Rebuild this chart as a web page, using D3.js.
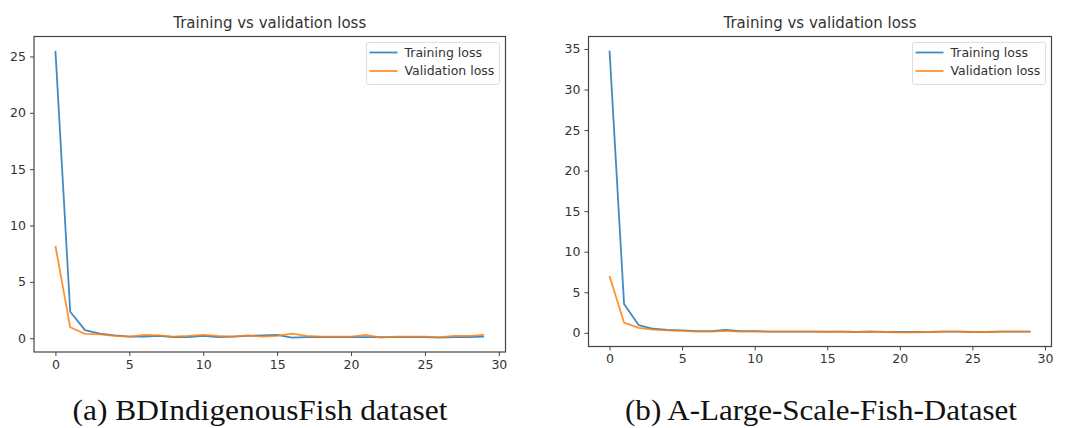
<!DOCTYPE html>
<html>
<head>
<meta charset="utf-8">
<script src="https://cdnjs.cloudflare.com/ajax/libs/d3/7.8.5/d3.min.js"></script>
<style>
  body { margin: 0; background: #fff; }
  svg text { font-family: "DejaVu Sans", sans-serif; fill: #333; }
  .caption { font-family: "Liberation Serif", "DejaVu Serif", serif; fill: #111; }
</style>
</head>
<body>
<svg id="chart" width="1069" height="428"></svg>
<script>
const epochs = d3.range(30);

// (a) BDIndigenousFish
const trainA = [25.5, 2.35, 0.72, 0.4, 0.25, 0.15, 0.15, 0.2, 0.1, 0.1,
                0.2, 0.1, 0.15, 0.2, 0.25, 0.3, 0.05, 0.1, 0.1, 0.1,
                0.1, 0.1, 0.1, 0.1, 0.1, 0.1, 0.05, 0.1, 0.1, 0.15];
const valA = [8.2, 0.97, 0.38, 0.35, 0.2, 0.15, 0.3, 0.25, 0.15, 0.2,
              0.3, 0.2, 0.15, 0.25, 0.15, 0.2, 0.4, 0.2, 0.15, 0.15,
              0.15, 0.3, 0.05, 0.15, 0.15, 0.15, 0.1, 0.2, 0.2, 0.3];

// (b) A-Large-Scale-Fish-Dataset
const trainB = [34.8, 3.55, 0.95, 0.5, 0.35, 0.3, 0.2, 0.2, 0.35, 0.2,
                0.2, 0.15, 0.15, 0.15, 0.15, 0.15, 0.15, 0.1, 0.15, 0.1,
                0.1, 0.1, 0.1, 0.15, 0.15, 0.1, 0.1, 0.15, 0.15, 0.15];
const valB = [7.0, 1.25, 0.6, 0.4, 0.3, 0.25, 0.15, 0.15, 0.25, 0.15,
              0.15, 0.15, 0.15, 0.15, 0.15, 0.1, 0.15, 0.1, 0.15, 0.1,
              0.05, 0.05, 0.1, 0.15, 0.15, 0.1, 0.1, 0.15, 0.15, 0.15];

const xTicks = [0, 5, 10, 15, 20, 25, 30];
const yTicksA = [0, 5, 10, 15, 20, 25];
const yTicksB = [0, 5, 10, 15, 20, 25, 30, 35];
const seriesNames = ["Training loss", "Validation loss"];
const colors = ["#1f77b4", "#ff7f0e"];

const svg = d3.select("#chart");

function drawPanel(box, train, val, yTicks, caption) {
  const g = svg.append("g");

  // matplotlib style 5% margins
  const xExt = d3.extent(epochs);
  const xPad = (xExt[1] - xExt[0]) * 0.05;
  const all = train.concat(val);
  const yExt = d3.extent(all);
  const yPad = (yExt[1] - yExt[0]) * 0.05;

  const x = d3.scaleLinear().domain([xExt[0] - xPad, xExt[1] + xPad]).range([box.x0, box.x1]);
  const y = d3.scaleLinear().domain([yExt[0] - yPad, yExt[1] + yPad]).range([box.y1, box.y0]);

  const line = d3.line().x((d, i) => x(epochs[i])).y(d => y(d));

  [train, val].forEach((s, k) => {
    g.append("path")
      .attr("d", line(s))
      .attr("fill", "none")
      .attr("stroke", colors[k])
      .attr("stroke-width", 1.8)
      .attr("stroke-linejoin", "round")
      .attr("opacity", 0.85);
  });

  // axes
  const xAxis = g.append("g")
    .attr("transform", `translate(0,${box.y1})`)
    .call(d3.axisBottom(x).tickValues(xTicks).tickSize(4).tickPadding(4));
  const yAxis = g.append("g")
    .attr("transform", `translate(${box.x0},0)`)
    .call(d3.axisLeft(y).tickValues(yTicks).tickSize(4).tickPadding(4));
  [xAxis, yAxis].forEach(a => {
    a.select(".domain").remove();
    a.selectAll("line").attr("stroke", "#444");
    a.selectAll("text").style("font-size", "12.5px").style("fill", "#333");
  });

  // frame
  g.append("rect")
    .attr("x", box.x0).attr("y", box.y0)
    .attr("width", box.x1 - box.x0).attr("height", box.y1 - box.y0)
    .attr("fill", "none").attr("stroke", "#444").attr("stroke-width", 1.2);

  // title
  g.append("text")
    .attr("x", (box.x0 + box.x1) / 2).attr("y", box.y0 - 8.5)
    .attr("text-anchor", "middle")
    .style("font-size", "15px")
    .text("Training vs validation loss");

  // legend
  const lg = g.append("g").attr("transform", `translate(${box.x1 - 139},${box.y0 + 6})`);
  lg.append("rect")
    .attr("x", 0).attr("y", 0).attr("width", 133).attr("height", 42)
    .attr("rx", 2)
    .attr("fill", "#fff").attr("stroke", "#ddd");
  seriesNames.forEach((name, i) => {
    lg.append("line")
      .attr("x1", 3).attr("x2", 31)
      .attr("y1", 10 + i * 18.5).attr("y2", 10 + i * 18.5)
      .attr("stroke", colors[i]).attr("stroke-width", 1.8).attr("opacity", 0.85);
    lg.append("text")
      .attr("x", 38).attr("y", 10 + i * 18.5).attr("dy", "0.35em")
      .style("font-size", "12.5px")
      .text(name);
  });

  // caption
  svg.append("text")
    .attr("class", "caption")
    .attr("x", caption.x).attr("y", 420)
    .attr("text-anchor", "middle")
    .attr("textLength", caption.w)
    .attr("lengthAdjust", "spacingAndGlyphs")
    .style("font-size", "29px")
    .text(caption.text);
}

drawPanel({ x0: 34, x1: 505.5, y0: 36.5, y1: 352 }, trainA, valA, yTicksA,
          { x: 260, w: 375, text: "(a) BDIndigenousFish dataset" });
drawPanel({ x0: 588.5, x1: 1051.5, y0: 36.5, y1: 346.5 }, trainB, valB, yTicksB,
          { x: 821, w: 392, text: "(b) A-Large-Scale-Fish-Dataset" });
</script>
</body>
</html>
